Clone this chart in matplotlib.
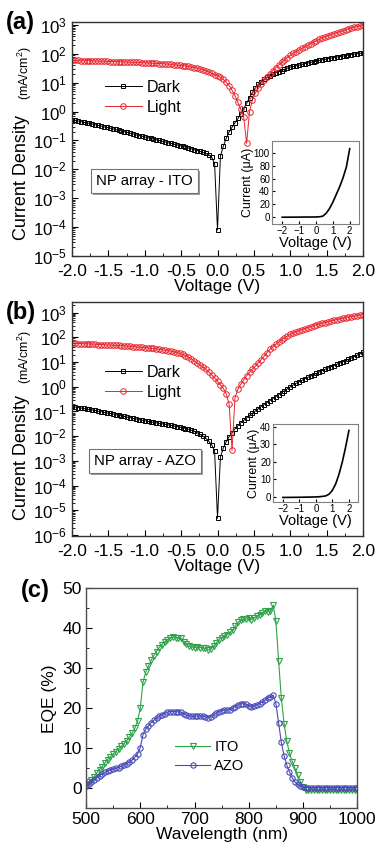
import numpy as np
import matplotlib
matplotlib.use('Agg')
import matplotlib.pyplot as plt
import matplotlib.patheffects as pe
from matplotlib.ticker import MultipleLocator, LogLocator, NullFormatter, FixedLocator

plt.rcParams.update({'font.family': 'Liberation Sans',
                     'mathtext.fontset': 'custom',
                     'mathtext.rm': 'Liberation Sans',
                     'mathtext.it': 'Liberation Sans:italic',
                     'mathtext.bf': 'Liberation Sans:bold',
                     'mathtext.default': 'regular',
                     'axes.linewidth': 1.0})

#---------------------------- data ----------------------------#
# bias voltage (V), -2.00 ... 2.00 in 0.04 V steps
volt = np.round(np.linspace(-2.0, 2.0, 101), 2)

# log10 of current density (mA/cm2)
dark_a_log = [-0.28, -0.30, -0.32, -0.35, -0.37, -0.39, -0.41, -0.43, -0.46, -0.48,
              -0.50, -0.53, -0.55, -0.57, -0.60, -0.62, -0.65, -0.67, -0.70, -0.72,
              -0.75, -0.77, -0.80, -0.83, -0.85, -0.88, -0.90, -0.93, -0.95, -0.98,
              -1.00, -1.03, -1.05, -1.08, -1.10, -1.13, -1.15, -1.18, -1.20, -1.23,
              -1.26, -1.29, -1.32, -1.35, -1.38, -1.41, -1.45, -1.50, -1.58, -1.80,
              -4.10,
              -1.55, -1.20, -0.93, -0.70, -0.54, -0.39, -0.24, -0.09, 0.10, 0.28,
              0.48, 0.66, 0.82, 0.94, 1.03, 1.11, 1.18, 1.24, 1.29, 1.34,
              1.38, 1.42, 1.46, 1.50, 1.54, 1.56, 1.58, 1.61, 1.63, 1.66,
              1.68, 1.70, 1.72, 1.74, 1.77, 1.79, 1.81, 1.83, 1.85, 1.87,
              1.89, 1.90, 1.92, 1.94, 1.96, 1.97, 1.99, 2.00, 2.02, 2.03]
light_a_log = [1.77, 1.77, 1.77, 1.76, 1.76, 1.76, 1.76, 1.75, 1.75, 1.75,
               1.74, 1.74, 1.74, 1.73, 1.73, 1.73, 1.72, 1.72, 1.72, 1.71,
               1.71, 1.70, 1.70, 1.70, 1.69, 1.69, 1.68, 1.68, 1.67, 1.67,
               1.66, 1.66, 1.65, 1.64, 1.63, 1.62, 1.61, 1.60, 1.59, 1.58,
               1.56, 1.54, 1.52, 1.50, 1.47, 1.45, 1.41, 1.37, 1.33, 1.28,
               1.24,
               1.19, 1.11, 1.02, 0.90, 0.74, 0.55, 0.32, 0.08, -0.18, -1.10,
               0.00, 0.40, 0.64, 0.80, 0.95, 1.08, 1.20, 1.31, 1.42, 1.52,
               1.61, 1.70, 1.79, 1.87, 1.95, 2.01, 2.07, 2.13, 2.19, 2.24,
               2.30, 2.35, 2.40, 2.45, 2.50, 2.55, 2.59, 2.63, 2.66, 2.70,
               2.73, 2.76, 2.79, 2.83, 2.86, 2.89, 2.92, 2.94, 2.96, 2.98]
dark_b_log = [-0.80, -0.82, -0.84, -0.86, -0.88, -0.90, -0.92, -0.94, -0.96, -0.99,
              -1.01, -1.03, -1.06, -1.08, -1.10, -1.13, -1.15, -1.18, -1.20, -1.23,
              -1.25, -1.28, -1.30, -1.33, -1.35, -1.38, -1.40, -1.42, -1.44, -1.46,
              -1.48, -1.50, -1.52, -1.54, -1.56, -1.59, -1.61, -1.63, -1.66, -1.69,
              -1.72, -1.76, -1.80, -1.86, -1.93, -2.00, -2.09, -2.20, -2.35, -2.60,
              -5.32,
              -2.85, -2.48, -2.22, -2.02, -1.86, -1.71, -1.58, -1.46, -1.36, -1.26,
              -1.16, -1.07, -0.98, -0.89, -0.80, -0.72, -0.64, -0.56, -0.48, -0.40,
              -0.32, -0.24, -0.16, -0.08, 0.00, 0.07, 0.14, 0.20, 0.26, 0.32,
              0.38, 0.43, 0.49, 0.54, 0.60, 0.65, 0.71, 0.76, 0.81, 0.86,
              0.91, 0.96, 1.01, 1.06, 1.11, 1.16, 1.22, 1.28, 1.34, 1.40]
light_b_log = [1.76, 1.76, 1.75, 1.75, 1.74, 1.74, 1.73, 1.73, 1.72, 1.71,
               1.71, 1.70, 1.69, 1.69, 1.68, 1.67, 1.67, 1.66, 1.65, 1.64,
               1.63, 1.62, 1.61, 1.60, 1.59, 1.58, 1.57, 1.56, 1.55, 1.53,
               1.52, 1.50, 1.48, 1.46, 1.44, 1.41, 1.38, 1.35, 1.31, 1.26,
               1.20, 1.13, 1.05, 0.97, 0.89, 0.80, 0.70, 0.60, 0.48, 0.36,
               0.22,
               0.08, -0.07, -0.28, -0.70, -2.57, -0.45, -0.10, 0.10, 0.28, 0.44,
               0.58, 0.71, 0.84, 0.97, 1.10, 1.24, 1.38, 1.51, 1.62, 1.72,
               1.81, 1.90, 1.98, 2.05, 2.12, 2.17, 2.22, 2.27, 2.31, 2.35,
               2.39, 2.43, 2.47, 2.50, 2.54, 2.57, 2.60, 2.63, 2.66, 2.69,
               2.72, 2.74, 2.77, 2.79, 2.82, 2.84, 2.86, 2.88, 2.90, 2.92]

# insets: linear current (uA)
inset_v = [-2.0, -1.5, -1.0, -0.5, 0.0, 0.2, 0.4, 0.6, 0.8, 1.0, 1.2, 1.4, 1.6, 1.8, 2.0]
inset_a = [-0.4, -0.3, -0.2, -0.1, 0.0, 0.3, 1.2, 5.5, 13, 23, 35, 47, 61, 78, 107]
inset_b = [-0.3, -0.25, -0.2, -0.1, 0.0, 0.1, 0.3, 0.6, 1.6, 3.8, 7.5, 13, 20, 28.5, 38]

# EQE (%) vs wavelength 500 ... 1000 nm, 5 nm steps
wavelength = np.arange(500, 1001, 5)
eqe_ito = [0.8, 1.5, 2.2, 2.9, 3.9, 4.7, 5.4, 6.4, 7.2, 7.9,
           8.6, 9.2, 9.9, 10.5, 11.2, 11.9, 12.9, 13.8, 15.0, 16.8,
           20.0, 26.5, 29.0, 30.5, 32.0, 33.2, 34.2, 35.2, 35.9, 36.6,
           37.2, 37.6, 37.8, 37.7, 37.6, 37.5, 36.7, 36.0, 35.5, 35.3,
           35.2, 35.3, 35.2, 35.1, 35.0, 34.6, 34.8, 35.5, 36.3, 37.2,
           37.6, 38.0, 38.4, 39.0, 39.5, 40.5, 41.5, 42.0, 42.3, 42.3,
           42.5, 42.2, 42.7, 43.0, 43.3, 43.8, 44.3, 44.2, 44.3, 45.8,
           41.8, 31.8, 22.5, 16.2, 11.8, 8.8, 6.7, 5.0, 3.3, 1.7,
           0.4, -0.4, -0.4, -0.4, -0.4, -0.4, -0.4, -0.4, -0.4, -0.4,
           -0.4, -0.4, -0.4, -0.4, -0.4, -0.4, -0.4, -0.4, -0.4, -0.4, -0.4]
eqe_azo = [0.5, 1.1, 1.6, 2.2, 2.7, 3.2, 3.6, 4.0, 4.3, 4.6,
           4.8, 5.0, 5.2, 5.5, 5.8, 6.2, 6.6, 7.1, 7.8, 8.6,
           10.2, 13.4, 14.8, 15.6, 16.4, 17.0, 17.5, 18.0, 18.4, 18.7,
           19.0, 19.2, 19.2, 19.2, 19.1, 19.0, 18.6, 18.3, 18.1, 18.0,
           18.0, 18.1, 18.1, 18.0, 17.9, 17.7, 17.9, 18.3, 18.8, 19.2,
           19.4, 19.5, 19.6, 19.7, 20.0, 20.4, 20.9, 21.2, 21.1, 21.0,
           20.6, 20.3, 20.6, 20.9, 21.2, 21.6, 22.1, 22.6, 22.8, 23.3,
           21.2, 16.3, 11.5, 8.2, 5.8, 4.1, 2.6, 1.6, 1.0, 0.5,
           0.3, 0.2, 0.2, 0.2, 0.2, 0.2, 0.2, 0.2, 0.2, 0.2,
           0.2, 0.2, 0.2, 0.2, 0.2, 0.2, 0.2, 0.2, 0.2, 0.2, 0.2]

RED = '#e8242c'
GREEN = '#2fa24a'
BLUE = '#4a4ab8'
W, H = 377.0, 848.0


def rect(l, t, r, b):
    return [l / W, 1 - b / H, (r - l) / W, (b - t) / H]


fig = plt.figure(figsize=(3.77, 8.48), dpi=100)


def jv_panel(box, dark_log, light_log, ylo, yhi, decades, tag, leg_top,
             inset_box, inset_y, inset_ylim, inset_step, ylab_y, unit_y):
    ax = fig.add_axes(rect(*box))
    ax.plot(volt, 10.0 ** np.array(dark_log), '-s', color='black', lw=0.7,
            ms=3.4, mew=0.7, mfc='none', label='Dark')
    ax.plot(volt, 10.0 ** np.array(light_log), '-o', color=RED, lw=0.7,
            ms=4.0, mew=0.7, mfc='none', label='Light')
    ax.set_yscale('log')
    ax.set_xlim(-2.0, 2.0)
    ax.set_ylim(ylo, yhi)
    ax.set_yticks([10.0 ** k for k in decades])
    ax.yaxis.set_minor_locator(LogLocator(base=10, subs=np.arange(2, 10), numticks=30))
    ax.yaxis.set_minor_formatter(NullFormatter())
    ax.xaxis.set_major_locator(MultipleLocator(0.5))
    ax.xaxis.set_minor_locator(MultipleLocator(0.25))
    ax.set_xticklabels(['%.1f' % t for t in ax.get_xticks()])
    ax.tick_params(which='both', direction='in', labelsize=12.5, pad=3)
    ax.tick_params(axis='y', labelsize=12.2, pad=3.5)
    ax.tick_params(axis='x', pad=5.5)
    ax.tick_params(which='major', length=4)
    ax.tick_params(which='minor', length=2.2)
    for s in ax.spines.values():
        s.set_color('0.2')
    ax.set_xlabel('Voltage (V)', fontsize=12.5, labelpad=0)
    fig.text(22 / W, 1 - ylab_y / H, 'Current Density', rotation=90,
             ha='center', va='center', fontsize=13)
    fig.text(25 / W, 1 - unit_y / H, '(mA/cm$^2$)', rotation=90,
             ha='center', va='center', fontsize=9)
    ax.legend(loc='upper left', bbox_to_anchor=(105 / W, 1 - leg_top / H),
              bbox_transform=fig.transFigure, frameon=False, fontsize=11.5,
              numpoints=1, handlelength=2.3, handletextpad=0.3,
              labelspacing=0.3, borderpad=0, borderaxespad=0)
    # label box with a soft shadow
    t = ax.text(0.25, 0.32, 'NP array - ' + tag, transform=ax.transAxes,
                ha='center', va='center', fontsize=10.8,
                bbox=dict(boxstyle='square,pad=0.35', fc='white', ec='0.45', lw=0.8))
    t.get_bbox_patch().set_path_effects([
        pe.SimplePatchShadow(offset=(1.5, -1.5), shadow_rgbFace='0.45', alpha=0.7),
        pe.Normal()])

    ins = fig.add_axes(rect(*inset_box))
    ins.plot(inset_v, inset_y, color='black', lw=1.2)
    ins.set_xlim(-2.6, 2.55)
    ins.set_ylim(*inset_ylim)
    ins.set_xticks([-2, -1, 0, 1, 2])
    ins.yaxis.set_major_locator(MultipleLocator(inset_step))
    ins.tick_params(direction='in', labelsize=7, length=2, pad=1.5)
    for s in ins.spines.values():
        s.set_color('0.5')
        s.set_linewidth(0.8)
    ins.set_xlabel('Voltage (V)', fontsize=10.5, labelpad=0)
    ins.set_ylabel('Current (\u03bcA)', fontsize=9, labelpad=0)
    return ax


jv_panel((72, 22, 363, 256), dark_a_log, light_a_log, 1e-5, 10 ** 3.1,
         range(-5, 4), 'ITO', 80, (272, 141, 359, 224), inset_a, (-11, 119), 20,
         178, 73)
jv_panel((72, 302, 363, 536), dark_b_log, light_b_log, 10 ** -6.04, 10 ** 3.43,
         range(-6, 4), 'AZO', 365, (273, 424, 358, 502), inset_b, (-2.9, 41.7), 10,
         457, 357)

# ---- (c) EQE ----
axc = fig.add_axes(rect(86, 588.3, 357.3, 808.3))
axc.plot(wavelength, eqe_ito, '-v', color=GREEN, lw=0.8, ms=4.2, mew=0.8,
         mfc='none', label='ITO')
axc.plot(wavelength, eqe_azo, '-o', color=BLUE, lw=0.8, ms=3.8, mew=0.8,
         mfc='none', label='AZO')
axc.set_xlim(500, 1000)
axc.set_ylim(-5, 50)
axc.xaxis.set_major_locator(MultipleLocator(100))
axc.xaxis.set_minor_locator(MultipleLocator(50))
axc.yaxis.set_major_locator(FixedLocator([0, 10, 20, 30, 40, 50]))
axc.yaxis.set_minor_locator(MultipleLocator(5))
axc.tick_params(which='both', direction='in', labelsize=12.5, pad=3)
axc.tick_params(which='major', length=4)
axc.tick_params(which='minor', length=2.2)
for s in axc.spines.values():
    s.set_color('0.3')
axc.set_xlabel('Wavelength (nm)', fontsize=12.5, labelpad=0)
axc.set_ylabel('EQE (%)', fontsize=12.5, labelpad=4)
axc.legend(loc='upper left', bbox_to_anchor=(175 / W, 1 - 740 / H),
           bbox_transform=fig.transFigure, frameon=False, fontsize=10.5,
           numpoints=1, handlelength=2.4, handletextpad=0.3,
           labelspacing=0.35, borderpad=0, borderaxespad=0)

fig.text(6 / W, 1 - 23 / H, '(a)', fontsize=17, fontweight='bold', va='center')
fig.text(6 / W, 1 - 312 / H, '(b)', fontsize=17, fontweight='bold', va='center')
fig.text(21 / W, 1 - 590 / H, '(c)', fontsize=17, fontweight='bold', va='center')

fig.savefig('out.png', dpi=100)
